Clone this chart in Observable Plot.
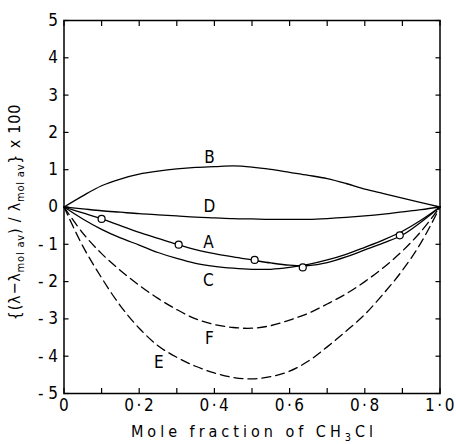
<!DOCTYPE html>
<html><head><meta charset="utf-8">
<script src="https://cdn.jsdelivr.net/npm/d3@7"></script>
<script src="https://cdn.jsdelivr.net/npm/@observablehq/plot@0.6"></script>
<style>body{margin:0;background:#fff} svg{display:block}</style>
</head><body><div id="chart"></div>
<script>
// Mole fraction grid
const xGrid = [0,0.05,0.1,0.15,0.2,0.25,0.3,0.35,0.4,0.45,0.5,0.55,0.6,0.65,0.7,0.75,0.8,0.85,0.9,0.95,1.0];
// Solid curves
const curveB = [0,0.3,0.57,0.75,0.88,0.96,1.02,1.06,1.08,1.1,1.07,1.01,0.93,0.85,0.76,0.63,0.48,0.36,0.24,0.12,0];
const curveD = [0,-0.05,-0.1,-0.14,-0.18,-0.21,-0.24,-0.27,-0.29,-0.31,-0.32,-0.33,-0.33,-0.33,-0.31,-0.28,-0.24,-0.19,-0.13,-0.07,0];
const curveA = [0,-0.16,-0.32,-0.5,-0.68,-0.84,-1.0,-1.14,-1.25,-1.34,-1.42,-1.5,-1.56,-1.57,-1.49,-1.34,-1.15,-0.96,-0.75,-0.4,0];
const curveC = [0,-0.32,-0.6,-0.83,-1.02,-1.22,-1.38,-1.51,-1.59,-1.64,-1.67,-1.67,-1.62,-1.54,-1.42,-1.27,-1.08,-0.88,-0.65,-0.35,0];
// Dashed curves
const curveF = [0,-0.7,-1.25,-1.7,-2.1,-2.45,-2.75,-3.0,-3.15,-3.23,-3.25,-3.18,-3.03,-2.85,-2.6,-2.33,-2.0,-1.62,-1.18,-0.65,0];
const curveE = [0,-1.05,-1.9,-2.65,-3.25,-3.72,-4.03,-4.27,-4.45,-4.57,-4.61,-4.55,-4.4,-4.13,-3.75,-3.33,-2.88,-2.32,-1.7,-0.95,0];
// Experimental points (series A)
const pointX = [0.10,0.305,0.507,0.635,0.893];
const pointY = [-0.32,-1.01,-1.42,-1.62,-0.76];
// Curve labels
const labelText = ["B","D","A","C","F","E"];
const labelX = [0.387,0.387,0.384,0.384,0.387,0.252];
const labelY = [1.33,0.0,-0.94,-1.97,-3.53,-4.16];
// Ticks
const xTickMarks = [0,0.1,0.2,0.3,0.4,0.5,0.6,0.7,0.8,0.9,1.0];
const xTickLabels = [0,0.2,0.4,0.6,0.8,1.0];
const yTicks = [-5,-4,-3,-2,-1,0,1,2,3,4,5];

const solidSeries = [["B",curveB],["D",curveD],["A",curveA],["C",curveC]];
const dashedSeries = [["F",curveF],["E",curveE]];
const toRows = s => s.flatMap(([name, ys]) => ys.map((y, i) => ({name, x: xGrid[i], y})));
const solidRows = toRows(solidSeries);
const dashedRows = toRows(dashedSeries);
const points = pointX.map((x, i) => ({x, y: pointY[i]}));
const labels = labelText.map((t, i) => ({t, x: labelX[i], y: labelY[i]}));

const font = "'Liberation Sans Narrow','DejaVu Sans Condensed','DejaVu Sans',sans-serif";
const fmtX = d => d === 0 ? "0" : d.toFixed(1).replace(".", "\u00b7");
const fmtY = d => d < 0 ? "- " + Math.abs(d) : String(d);

const chart = Plot.plot({
  width: 456, height: 444,
  marginLeft: 63.5, marginRight: 16.5, marginTop: 20, marginBottom: 51,
  x: {domain: [0, 1]},
  y: {domain: [-5, 5]},
  style: {fontFamily: font, background: "white", color: "black"},
  marks: [
    Plot.axisX(xTickMarks, {anchor: "bottom", tickSize: -5, tickFormat: () => "", label: null, strokeWidth: 1.2}),
    Plot.axisX(xTickMarks, {anchor: "top", tickSize: -5, tickFormat: () => "", label: null, strokeWidth: 1.2}),
    Plot.axisY(yTicks, {anchor: "left", tickSize: -5, tickFormat: () => "", label: null, strokeWidth: 1.2}),
    Plot.axisY(yTicks, {anchor: "right", tickSize: -5, tickFormat: () => "", label: null, strokeWidth: 1.2}),
    Plot.axisX(xTickLabels, {anchor: "bottom", tickSize: 0, tickPadding: 5, tickFormat: fmtX, label: null, fontSize: 17}),
    Plot.axisY(yTicks, {anchor: "left", tickSize: 0, tickPadding: 6, tickFormat: fmtY, label: null, fontSize: 17}),
    Plot.frame({stroke: "black", strokeWidth: 1.5}),
    Plot.line(solidRows, {x: "x", y: "y", z: "name", curve: "catmull-rom", stroke: "black", strokeWidth: 1.3}),
    Plot.line(dashedRows, {x: "x", y: "y", z: "name", curve: "catmull-rom", stroke: "black", strokeWidth: 1.3, strokeDasharray: "9,5"}),
    Plot.dot(points, {x: "x", y: "y", r: 3.5, fill: "white", stroke: "black", strokeWidth: 1.2}),
    Plot.text(labels, {x: "x", y: "y", text: "t", fontSize: 17})
  ]
});
document.getElementById("chart").appendChild(chart);

const svg = d3.select(chart);
// widen the x tick labels like the hand lettering
svg.selectAll("g[aria-label='x-axis tick label'] text")
  .attr("letter-spacing", 2.5).attr("dx", 1);
// x-axis title
const xt = svg.append("text")
  .attr("x", 254).attr("y", 437)
  .attr("text-anchor", "middle")
  .attr("font-family", font).attr("font-size", 16)
  .attr("letter-spacing", 4).attr("fill", "black");
xt.append("tspan").text("Mole fraction of CH");
xt.append("tspan").attr("font-size", 11).attr("dy", 4).text("3");
xt.append("tspan").attr("dy", -4).text("Cl");
// y-axis title
const yt = svg.append("text")
  .attr("transform", "translate(20,212) rotate(-90)")
  .attr("text-anchor", "middle")
  .attr("font-family", font).attr("font-size", 16)
  .attr("letter-spacing", 0.8).attr("fill", "black");
yt.append("tspan").text("{(\u03bb\u2212\u03bb");
yt.append("tspan").attr("font-size", 11).attr("dy", 4).text("mol av");
yt.append("tspan").attr("dy", -4).text(") / \u03bb");
yt.append("tspan").attr("font-size", 11).attr("dy", 4).text("mol av");
yt.append("tspan").attr("dy", -4).text("} x 100");
</script>
</body></html>
